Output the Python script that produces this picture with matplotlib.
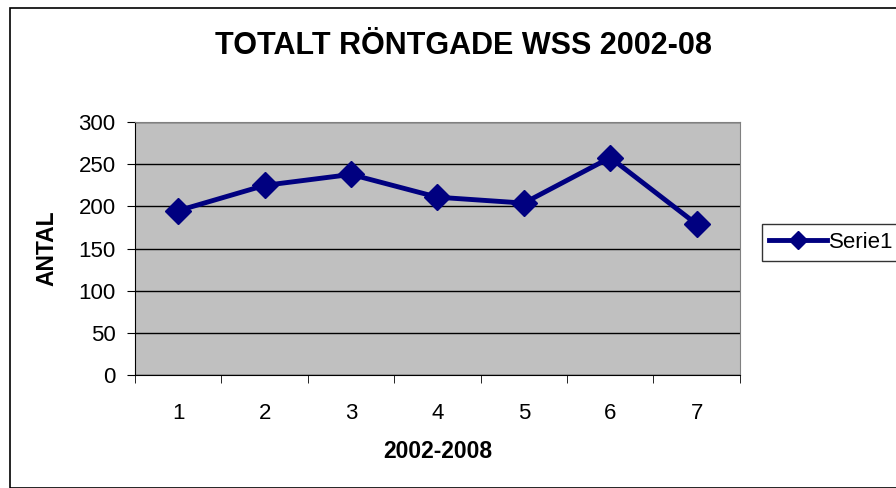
import matplotlib
matplotlib.use("Agg")
import matplotlib.pyplot as plt
from matplotlib.patches import Rectangle

# Data
years = [1, 2, 3, 4, 5, 6, 7]
antal = [195, 225, 238, 211, 204, 258, 179]
yticks = [0, 50, 100, 150, 200, 250, 300]

plt.rcParams['font.family'] = ['Liberation Sans', 'DejaVu Sans']

fig = plt.figure(figsize=(8.96, 4.88), dpi=100)
ax = fig.add_axes([0.1507, 0.2316, 0.675, 0.518])

# outer chart frame
fig.patches.append(Rectangle((10 / 896, 0), 1.0, 1 - 8 / 488, transform=fig.transFigure,
                             fill=False, edgecolor='black', linewidth=1.2))

ax.set_facecolor('#C0C0C0')
ax.plot(years, antal, color='#000080', linewidth=3.5, marker='D', markersize=13,
        label='Serie1')

ax.set_xlim(0.5, 7.5)
ax.set_ylim(0, 300)
ax.set_yticks(yticks)
ax.set_xticks(years)
ax.set_xticks([x + 0.5 for x in range(0, 8)], minor=True)
ax.tick_params(axis='x', which='major', length=0, labelsize=16, pad=20)
ax.tick_params(axis='x', which='minor', length=6, color='black')
ax.tick_params(axis='y', length=6, labelsize=16, color='black', pad=8)
ax.grid(axis='y', color='black', linewidth=1)
ax.set_axisbelow(True)

for side in ['top', 'right']:
    ax.spines[side].set_color('#808080')
for side in ['left', 'bottom']:
    ax.spines[side].set_color('black')

fig.text(463 / 896, 0.905, 'TOTALT RÖNTGADE WSS 2002-08', ha='center', va='center',
         fontsize=22, fontweight='bold')
ax.set_xlabel('2002-2008', fontsize=16.5, fontweight='bold', labelpad=12)
ax.set_ylabel('ANTAL', fontsize=16.5, fontweight='bold', labelpad=14)

ax.legend(loc='center left', bbox_to_anchor=(1.036, 0.525), borderaxespad=0,
          fontsize=16, frameon=True, fancybox=False, edgecolor='black',
          handlelength=2.6, handletextpad=0.1, borderpad=0.35, markerscale=0.7)

fig.savefig('out.png', dpi=100)
